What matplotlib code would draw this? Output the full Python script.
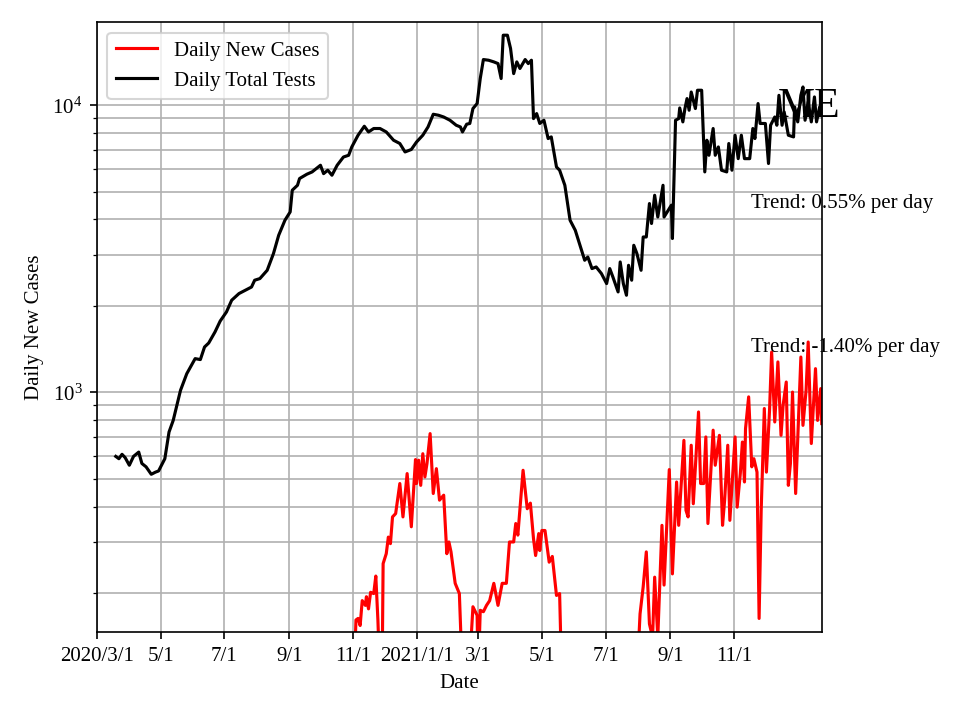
import pandas as pd
import matplotlib
matplotlib.use("Agg")
import matplotlib.pyplot as plt

plt.rcParams['font.family'] = ['Liberation Serif', 'DejaVu Serif']
plt.rcParams['mathtext.fontset'] = 'stix'
plt.rcParams['font.size'] = 10

# Daily total tests
test_dates = [
    "2020-03-19", "2020-03-22", "2020-03-25", "2020-03-28", "2020-04-01", "2020-04-05",
    "2020-04-10", "2020-04-13", "2020-04-17", "2020-04-22", "2020-04-26", "2020-04-29",
    "2020-05-01", "2020-05-05", "2020-05-09", "2020-05-13", "2020-05-20", "2020-05-26",
    "2020-06-03", "2020-06-08", "2020-06-12", "2020-06-16", "2020-06-22", "2020-06-27",
    "2020-07-03", "2020-07-08", "2020-07-15", "2020-07-21", "2020-07-27", "2020-07-30",
    "2020-08-04", "2020-08-11", "2020-08-17", "2020-08-22", "2020-08-28", "2020-09-02",
    "2020-09-04", "2020-09-09", "2020-09-11", "2020-09-18", "2020-09-23", "2020-10-01",
    "2020-10-04", "2020-10-08", "2020-10-12", "2020-10-17", "2020-10-23", "2020-10-28",
    "2020-10-31", "2020-11-06", "2020-11-12", "2020-11-16", "2020-11-21", "2020-11-27",
    "2020-12-03", "2020-12-10", "2020-12-16", "2020-12-21", "2020-12-27", "2021-01-01",
    "2021-01-07", "2021-01-12", "2021-01-17", "2021-01-22", "2021-01-27", "2021-02-02",
    "2021-02-08", "2021-02-12", "2021-02-14", "2021-02-18", "2021-02-21", "2021-02-24",
    "2021-02-28", "2021-03-03", "2021-03-06", "2021-03-11", "2021-03-16", "2021-03-20",
    "2021-03-23", "2021-03-25", "2021-03-29", "2021-04-01", "2021-04-04", "2021-04-07",
    "2021-04-10", "2021-04-15", "2021-04-18", "2021-04-21", "2021-04-23", "2021-04-26",
    "2021-04-29", "2021-05-03", "2021-05-07", "2021-05-10", "2021-05-15", "2021-05-18",
    "2021-05-23", "2021-05-28", "2021-06-02", "2021-06-06", "2021-06-11", "2021-06-14",
    "2021-06-18", "2021-06-22", "2021-06-27", "2021-07-02", "2021-07-05", "2021-07-08",
    "2021-07-13", "2021-07-15", "2021-07-18", "2021-07-21", "2021-07-23", "2021-07-26",
    "2021-07-28", "2021-07-31", "2021-08-04", "2021-08-06", "2021-08-09", "2021-08-12",
    "2021-08-14", "2021-08-17", "2021-08-20", "2021-08-25", "2021-08-26", "2021-09-01",
    "2021-09-02", "2021-09-03", "2021-09-06", "2021-09-09", "2021-09-10", "2021-09-13",
    "2021-09-15", "2021-09-17", "2021-09-19", "2021-09-21", "2021-09-25", "2021-09-27",
    "2021-10-01", "2021-10-04", "2021-10-06", "2021-10-08", "2021-10-12", "2021-10-14",
    "2021-10-17", "2021-10-20", "2021-10-25", "2021-10-27", "2021-10-30", "2021-11-02",
    "2021-11-05", "2021-11-08", "2021-11-11", "2021-11-16", "2021-11-19", "2021-11-21",
    "2021-11-24", "2021-11-26", "2021-12-01", "2021-12-04", "2021-12-06", "2021-12-10",
    "2021-12-12", "2021-12-14", "2021-12-17", "2021-12-19", "2021-12-23", "2021-12-28",
    "2021-12-29", "2022-01-01", "2022-01-04", "2022-01-06", "2022-01-08", "2022-01-11",
    "2022-01-14", "2022-01-17", "2022-01-19", "2022-01-22", "2022-01-24",
]
tests = [
    598, 587, 608, 592, 557, 598,
    619, 565, 550, 518, 527, 532,
    550, 587, 727, 798, 1016, 1161,
    1310, 1300, 1438, 1485, 1622, 1771,
    1905, 2093, 2208, 2266, 2327, 2457,
    2490, 2661, 3043, 3524, 3976, 4250,
    5058, 5263, 5556, 5751, 5858, 6180,
    5778, 5938, 5704, 6180, 6601, 6695,
    7157, 7863, 8450, 8072, 8298, 8298,
    8072, 7553, 7357, 6876, 7013, 7447,
    7863, 8403, 9304, 9230, 9100, 8867,
    8518, 8403, 8072, 8590, 8640, 9739,
    10137, 12390, 14430, 14350, 14160, 13970,
    12390, 17540, 17540, 15780, 12890, 14160,
    13430, 14430, 13970, 14350, 8985, 9355,
    8640, 8867, 7656, 7757, 6095, 5938,
    5263, 3976, 3667, 3297, 2884, 2960,
    2698, 2733, 2593, 2392, 2698, 2522,
    2237, 2845, 2392, 2178, 2770, 2457,
    3252, 3043, 2661, 3476, 3476, 4545,
    3873, 4857, 4080, 5263, 4080, 4424,
    4485, 3433, 8867, 8985, 9786, 8750,
    9739, 10550, 9607, 11120, 9739, 11280,
    11280, 5858, 7553, 6695, 8298, 6695,
    7157, 5938, 5858, 7357, 5938, 7863,
    6516, 7863, 6516, 6516, 8298, 7656,
    10137, 8640, 8640, 6266, 8518, 9100,
    8518, 10830, 8518, 9480, 7863, 7757,
    9865, 8750, 10830, 11580, 8867, 10270,
    8750, 10690, 8750, 9865, 9230,
]

# Daily new cases (values below the axis floor are off-chart)
case_dates = [
    "2020-11-02", "2020-11-04", "2020-11-06", "2020-11-08", "2020-11-10", "2020-11-13",
    "2020-11-14", "2020-11-16", "2020-11-18", "2020-11-21", "2020-11-23", "2020-11-25",
    "2020-11-27", "2020-11-29", "2020-11-30", "2020-12-03", "2020-12-05", "2020-12-07",
    "2020-12-09", "2020-12-12", "2020-12-16", "2020-12-19", "2020-12-23", "2020-12-27",
    "2020-12-31", "2021-01-01", "2021-01-03", "2021-01-05", "2021-01-07", "2021-01-09",
    "2021-01-11", "2021-01-14", "2021-01-17", "2021-01-20", "2021-01-23", "2021-01-27",
    "2021-01-30", "2021-02-01", "2021-02-03", "2021-02-07", "2021-02-11", "2021-02-14",
    "2021-02-20", "2021-02-24", "2021-02-28", "2021-03-01", "2021-03-03", "2021-03-06",
    "2021-03-09", "2021-03-12", "2021-03-16", "2021-03-20", "2021-03-24", "2021-03-28",
    "2021-03-31", "2021-04-04", "2021-04-06", "2021-04-08", "2021-04-13", "2021-04-17",
    "2021-04-20", "2021-04-23", "2021-04-25", "2021-04-28", "2021-04-29", "2021-05-01",
    "2021-05-04", "2021-05-08", "2021-05-11", "2021-05-15", "2021-05-18", "2021-05-20",
    "2021-07-31", "2021-08-03", "2021-08-06", "2021-08-09", "2021-08-12", "2021-08-15",
    "2021-08-17", "2021-08-20", "2021-08-24", "2021-08-26", "2021-08-31", "2021-09-03",
    "2021-09-07", "2021-09-09", "2021-09-14", "2021-09-16", "2021-09-18", "2021-09-21",
    "2021-09-23", "2021-09-28", "2021-09-30", "2021-10-03", "2021-10-05", "2021-10-07",
    "2021-10-12", "2021-10-14", "2021-10-18", "2021-10-21", "2021-10-23", "2021-10-26",
    "2021-10-28", "2021-11-02", "2021-11-04", "2021-11-07", "2021-11-09", "2021-11-11",
    "2021-11-12", "2021-11-15", "2021-11-18", "2021-11-20", "2021-11-23", "2021-11-25",
    "2021-11-27", "2021-11-30", "2021-12-02", "2021-12-05", "2021-12-07", "2021-12-10",
    "2021-12-13", "2021-12-16", "2021-12-18", "2021-12-21", "2021-12-23", "2021-12-25",
    "2021-12-27", "2021-12-30", "2022-01-04", "2022-01-06", "2022-01-09", "2022-01-11",
    "2022-01-14", "2022-01-18", "2022-01-20", "2022-01-23", "2022-01-24",
]
cases = [
    100, 161, 163, 154, 188, 181,
    194, 176, 201, 199, 229, 161,
    100, 100, 253, 274, 313, 297,
    368, 378, 481, 368, 521, 340,
    583, 481, 580, 474, 611, 507,
    565, 718, 444, 542, 421, 438,
    274, 301, 278, 216, 199, 100,
    100, 179, 167, 100, 174, 172,
    181, 188, 216, 181, 216, 216,
    301, 301, 349, 318, 535, 393,
    411, 309, 270, 322, 281, 330,
    330, 256, 268, 196, 199, 100,
    100, 169, 210, 278, 156, 140,
    227, 140, 344, 213, 538, 233,
    487, 344, 680, 388, 368, 654,
    409, 854, 481, 481, 699, 349,
    738, 557, 708, 344, 421, 654,
    358, 699, 398, 521, 671, 487,
    747, 964, 550, 587, 527, 163,
    388, 878, 527, 866, 1381, 788,
    1276, 708, 901, 1086, 474, 565,
    1002, 444, 1327, 767, 1016, 1497,
    663, 1209, 798, 1030, 778,
]

tick_dates = ["2020-03-01", "2020-05-01", "2020-07-01", "2020-09-01", "2020-11-01",
              "2021-01-01", "2021-03-01", "2021-05-01", "2021-07-01", "2021-09-01",
              "2021-11-01"]
tick_labels = ["2020/3/1", "5/1", "7/1", "9/1", "11/1", "2021/1/1",
               "3/1", "5/1", "7/1", "9/1", "11/1"]

fig, ax = plt.subplots(figsize=(6.4, 4.8), dpi=150)
fig.subplots_adjust(left=0.101, right=0.856, top=0.969, bottom=0.122)

ax.plot(pd.to_datetime(case_dates), cases, color='red', label='Daily New Cases')
ax.plot(pd.to_datetime(test_dates), tests, color='black', label='Daily Total Tests')

ax.set_yscale('log')
ax.set_ylim(146, 19450)
ax.set_xlim(pd.Timestamp("2020-03-01"), pd.Timestamp(test_dates[-1]))
ax.set_xticks(pd.to_datetime(tick_dates))
ax.set_xticklabels(tick_labels)
ax.grid(True, which='both')

ax.set_xlabel('Date')
ax.set_ylabel('Daily New Cases')
ax.legend(loc='upper left')

ax.text(0.939, 0.861, 'ME', transform=ax.transAxes, fontsize=20, va='center')
ax.text(0.903, 0.695, 'Trend: 0.55% per day', transform=ax.transAxes, va='baseline')
ax.text(0.903, 0.459, 'Trend: -1.40% per day', transform=ax.transAxes, va='baseline')

plt.savefig('out.png')
